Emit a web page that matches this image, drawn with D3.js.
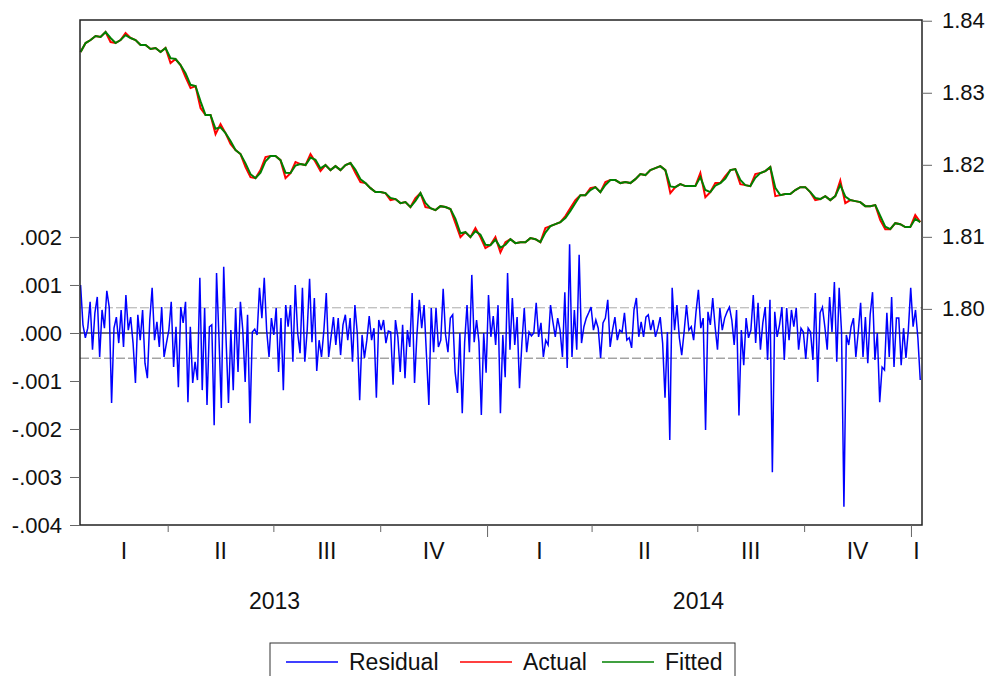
<!DOCTYPE html>
<html>
<head>
<meta charset="utf-8">
<script src="https://cdn.jsdelivr.net/npm/d3@7"></script>
<style>
  body { margin: 0; background: #fff; }
  svg { display: block; font-family: "Liberation Sans", Arial, sans-serif; }
</style>
</head>
<body>
<div id="chart"></div>
<script>
var residual = [
  0.00100, 0.00017, -0.00010, 0.00010, 0.00065, -0.00035, 0.00042, 0.00075, -0.00050, 0.00048,
  0.00010, 0.00088, 0.00054, -0.00146, 0.00010, 0.00033, -0.00021, 0.00048, -0.00029, 0.00079,
  0.00006, 0.00033, -0.00021, -0.00104, 0.00038, -0.00015, 0.00048, -0.00063, -0.00094, 0.00027,
  0.00094, -0.00015, 0.00023, -0.00029, 0.00054, -0.00050, -0.00021, 0.00006, 0.00065, -0.00071,
  0.00013, -0.00113, 0.00054, 0.00021, 0.00065, -0.00144, 0.00013, -0.00104, -0.00060, -0.00098,
  0.00115, -0.00119, 0.00052, -0.00150, 0.00013, 0.00017, -0.00192, 0.00125, -0.00008, -0.00156,
  0.00138, -0.00015, -0.00146, 0.00006, -0.00119, 0.00052, -0.00081, 0.00065, 0.00006, -0.00102,
  0.00038, -0.00188, 0.00002, 0.00008, -0.00004, 0.00094, 0.00031, 0.00115, 0.00006, -0.00050,
  0.00031, -0.00004, 0.00052, -0.00081,
  0.00031, -0.00119, 0.00058, 0.00013, 0.00058, -0.00060, 0.00100, 0.00000, -0.00042, 0.00094,
  -0.00060, 0.00006, 0.00113, -0.00019, 0.00073, -0.00079, -0.00015, -0.00050, 0.00006, 0.00083,
  -0.00050, -0.00008, 0.00033, -0.00025, 0.00031, -0.00046, 0.00017, 0.00038, -0.00015, 0.00031,
  -0.00060, 0.00058, 0.00000, -0.00140, -0.00004, -0.00052, -0.00015, 0.00035, -0.00015, 0.00010,
  -0.00135, 0.00027, 0.00006, 0.00027, -0.00021, 0.00004, 0.00002, -0.00108, 0.00027, -0.00008,
  -0.00081, 0.00017, -0.00094, 0.00006, -0.00029, 0.00083, -0.00104, -0.00004, 0.00069, 0.00010,
  0.00058, -0.00046, -0.00150, 0.00052, -0.00040, 0.00052, -0.00029, -0.00015, 0.00092, -0.00004,
  -0.00040, 0.00031, 0.00038, -0.00081, -0.00125, 0.00000, -0.00167, -0.00019, 0.00058, -0.00040,
  0.00121, -0.00019, 0.00027, -0.00019, -0.00171,
  0.00000, -0.00083, 0.00079, -0.00008, 0.00035, -0.00025, 0.00058, -0.00167, -0.00004, -0.00092,
  0.00125, -0.00035, 0.00073, -0.00025, 0.00033, -0.00115, -0.00021, 0.00052, -0.00040, 0.00002,
  -0.00006, 0.00000, 0.00063, -0.00008, 0.00021, -0.00050, -0.00015, -0.00025, 0.00058, 0.00023,
  -0.00008, 0.00031, 0.00006, -0.00050, 0.00085, -0.00073, 0.00185, -0.00050, 0.00048, -0.00035,
  0.00163, -0.00021, 0.00013, 0.00031, 0.00042, 0.00054, 0.00006, 0.00027, 0.00010, -0.00052,
  0.00021, 0.00031, 0.00069, -0.00029, 0.00006, 0.00033, -0.00015, 0.00006, 0.00002, 0.00042,
  -0.00015, -0.00010, -0.00031, 0.00048, 0.00073, -0.00008, 0.00023, -0.00008, 0.00033, 0.00038,
  0.00006, 0.00027, -0.00008, 0.00010, 0.00033, -0.00021, -0.00135, 0.00002, -0.00223, 0.00094,
  0.00006, 0.00058, -0.00010, -0.00046, 0.00002, 0.00058, 0.00006,
  0.00013, -0.00015, 0.00044, 0.00090, 0.00010, 0.00031, -0.00202, 0.00044, 0.00017, 0.00073,
  0.00013, -0.00035, 0.00052, 0.00006, 0.00031, 0.00044, 0.00054, 0.00027, -0.00025, 0.00048,
  -0.00172, 0.00006, -0.00067, 0.00031, -0.00010, 0.00006, 0.00079, -0.00021, 0.00063, -0.00035,
  0.00021, 0.00054, -0.00056, 0.00069, -0.00290, 0.00044, -0.00008, 0.00017, 0.00054, -0.00056,
  0.00052, -0.00015, 0.00048, 0.00013, 0.00052, -0.00035, 0.00010, 0.00002, -0.00054, 0.00010,
  0.00002, -0.00056, 0.00083, -0.00102, 0.00042, 0.00054, 0.00013, -0.00035, 0.00075, 0.00002,
  0.00106, -0.00060, 0.00094, 0.00002, -0.00362, -0.00004, -0.00025, 0.00013, 0.00031, -0.00050,
  0.00002, 0.00063, -0.00050, 0.00033, -0.00063, 0.00038, 0.00085, -0.00056, 0.00000, -0.00144,
  -0.00071, -0.00077, 0.00042, -0.00050, 0.00075, -0.00071, 0.00031, 0.00031, -0.00067, 0.00010,
  -0.00052, 0.00006, 0.00094, 0.00013, 0.00048, -0.00010, -0.00098
];

// Actual series (right axis)
var actual = [
  1.83565, 1.83690, 1.83732, 1.83788, 1.83774, 1.83843, 1.83704, 1.83690, 1.83732, 1.83829,
  1.83760, 1.83732, 1.83663, 1.83663, 1.83607, 1.83621, 1.83565, 1.83621, 1.83413, 1.83468,
  1.83385, 1.83218, 1.83065, 1.83093, 1.82788, 1.82690, 1.82690, 1.82426, 1.82565, 1.82440,
  1.82288, 1.82204, 1.82149, 1.81968, 1.81829, 1.81815, 1.81926, 1.82107, 1.82121, 1.82121,
  1.82065, 1.81815, 1.81885, 1.82038, 1.82010, 1.81996, 1.82149, 1.82038, 1.81913, 1.81996,
  1.81926, 1.81982, 1.81926, 1.81996, 1.82024, 1.81885, 1.81760, 1.81746, 1.81676, 1.81621,
  1.81621, 1.81607, 1.81510, 1.81524, 1.81468, 1.81482, 1.81413, 1.81538, 1.81607, 1.81413,
  1.81399, 1.81371, 1.81426, 1.81413, 1.81385, 1.81190, 1.80996, 1.81065, 1.80996, 1.81121,
  1.80996, 1.80843, 1.80885, 1.80996, 1.80785, 1.80926, 1.80968, 1.80913, 1.80926, 1.80926,
  1.80982, 1.80968, 1.80926, 1.81121, 1.81149, 1.81176, 1.81204, 1.81288, 1.81399, 1.81510,
  1.81579, 1.81579, 1.81676, 1.81690, 1.81621, 1.81760, 1.81788, 1.81788, 1.81746, 1.81760,
  1.81746, 1.81801, 1.81871, 1.81857, 1.81926, 1.81954, 1.81982, 1.81926, 1.81607, 1.81690,
  1.81732, 1.81704, 1.81704, 1.81704, 1.81885, 1.81551, 1.81621, 1.81746, 1.81746, 1.81843,
  1.81926, 1.81940, 1.81732, 1.81718, 1.81704, 1.81871, 1.81885, 1.81913, 1.81968, 1.81565,
  1.81579, 1.81593, 1.81593, 1.81649, 1.81690, 1.81690, 1.81621, 1.81510, 1.81524, 1.81565,
  1.81510, 1.81565, 1.81780, 1.81468, 1.81510, 1.81496, 1.81482, 1.81426, 1.81426, 1.81440,
  1.81232, 1.81107, 1.81107, 1.81190, 1.81176, 1.81135, 1.81135, 1.81301, 1.81204
];

// Fitted series (right axis)
var fitted = [
  1.83565, 1.83690, 1.83732, 1.83788, 1.83774, 1.83843, 1.83760, 1.83690, 1.83732, 1.83800,
  1.83760, 1.83732, 1.83663, 1.83663, 1.83607, 1.83621, 1.83565, 1.83621, 1.83480, 1.83468,
  1.83385, 1.83270, 1.83110, 1.83093, 1.82880, 1.82690, 1.82690, 1.82500, 1.82520, 1.82440,
  1.82330, 1.82204, 1.82149, 1.82020, 1.81870, 1.81815, 1.81890, 1.82050, 1.82121, 1.82121,
  1.82065, 1.81890, 1.81885, 1.81990, 1.82010, 1.81996, 1.82100, 1.82070, 1.81950, 1.81996,
  1.81926, 1.81982, 1.81926, 1.81996, 1.82024, 1.81930, 1.81800, 1.81746, 1.81676, 1.81621,
  1.81621, 1.81607, 1.81540, 1.81524, 1.81468, 1.81482, 1.81413, 1.81500, 1.81607, 1.81470,
  1.81399, 1.81371, 1.81426, 1.81413, 1.81385, 1.81250, 1.81050, 1.81065, 1.80996, 1.81080,
  1.81030, 1.80890, 1.80885, 1.80960, 1.80850, 1.80890, 1.80968, 1.80913, 1.80926, 1.80926,
  1.80982, 1.80968, 1.80926, 1.81060, 1.81149, 1.81176, 1.81204, 1.81260, 1.81360, 1.81470,
  1.81579, 1.81579, 1.81650, 1.81690, 1.81621, 1.81720, 1.81788, 1.81788, 1.81746, 1.81760,
  1.81746, 1.81801, 1.81871, 1.81857, 1.81926, 1.81954, 1.81982, 1.81926, 1.81700, 1.81690,
  1.81732, 1.81704, 1.81704, 1.81704, 1.81830, 1.81650, 1.81621, 1.81710, 1.81746, 1.81810,
  1.81926, 1.81940, 1.81790, 1.81718, 1.81704, 1.81820, 1.81885, 1.81913, 1.81968, 1.81680,
  1.81579, 1.81593, 1.81593, 1.81649, 1.81690, 1.81690, 1.81621, 1.81540, 1.81524, 1.81565,
  1.81510, 1.81565, 1.81720, 1.81560, 1.81510, 1.81496, 1.81482, 1.81426, 1.81426, 1.81440,
  1.81290, 1.81140, 1.81107, 1.81190, 1.81176, 1.81135, 1.81135, 1.81250, 1.81204
];

// Axis ticks and labels
var residTicks = [-0.004, -0.003, -0.002, -0.001, 0, 0.001, 0.002];
var residTickLabels = ["-.004", "-.003", "-.002", "-.001", ".000", ".001", ".002"];
var levelTicks = [1.80, 1.81, 1.82, 1.83, 1.84];
var levelTickLabels = ["1.80", "1.81", "1.82", "1.83", "1.84"];
var quarterLabels = ["I", "II", "III", "IV"];
var yearLabels = ["2013", "2014"];
var seriesNames = ["Residual", "Actual", "Fitted"];
var seriesColors = ["#0000ff", "#ff0000", "#008000"];
var residStdErr = 0.000525;

// Define SVG area dimensions and plot box
var svgWidth = 986;
var svgHeight = 676;
var plot = { left: 80, right: 922, top: 20, bottom: 525 };

var axisStart = new Date(2013, 0, 15, 12);
var axisEnd = new Date(2015, 0, 10, 12);
var dataStart = new Date(2013, 0, 16);
var dataEnd = new Date(2015, 0, 9);

// evenly spread observation dates across the sample
function obsDates(n) {
  var t0 = dataStart.getTime(), t1 = dataEnd.getTime();
  return d3.range(n).map(function(i) { return new Date(t0 + i * (t1 - t0) / (n - 1)); });
}
var residDates = obsDates(residual.length);
var levelDates = obsDates(actual.length);

var svg = d3.select("#chart")
  .append("svg")
  .attr("width", svgWidth)
  .attr("height", svgHeight);

// scales
var x = d3.scaleTime().domain([axisStart, axisEnd]).range([plot.left, plot.right]);
var yResid = d3.scaleLinear().domain([-0.004, 0.00652]).range([plot.bottom, plot.top]);
var yLevel = d3.scaleLinear().domain([1.77, 1.8401]).range([plot.bottom, plot.top]);

// zero line and +/- one standard error band
svg.append("line")
  .attr("x1", plot.left).attr("x2", plot.right)
  .attr("y1", yResid(0)).attr("y2", yResid(0))
  .attr("stroke", "#444").attr("stroke-width", 1.5);

svg.selectAll(".band")
  .data([residStdErr, -residStdErr])
  .enter()
  .append("line")
  .attr("x1", plot.left).attr("x2", plot.right)
  .attr("y1", d => yResid(d)).attr("y2", d => yResid(d))
  .attr("stroke", (d, i) => i === 0 ? "#aaa" : "#777")
  .attr("stroke-width", 1)
  .attr("stroke-dasharray", "9,3");

// series lines
var residLine = d3.line()
  .x((d, i) => x(residDates[i]))
  .y(d => yResid(d));

var levelLine = d3.line()
  .x((d, i) => x(levelDates[i]))
  .y(d => yLevel(d));

svg.append("path")
  .datum(residual)
  .attr("fill", "none")
  .attr("stroke", seriesColors[0])
  .attr("stroke-width", 1.5)
  .attr("d", residLine);

svg.append("path")
  .datum(actual)
  .attr("fill", "none")
  .attr("stroke", seriesColors[1])
  .attr("stroke-width", 2)
  .attr("d", levelLine);

svg.append("path")
  .datum(fitted)
  .attr("fill", "none")
  .attr("stroke", seriesColors[2])
  .attr("stroke-width", 2)
  .attr("d", levelLine);

// frame
svg.append("rect")
  .attr("x", plot.left).attr("y", plot.top)
  .attr("width", plot.right - plot.left)
  .attr("height", plot.bottom - plot.top)
  .attr("fill", "none")
  .attr("stroke", "#222")
  .attr("stroke-width", 1.5);

// left axis
var leftAxis = svg.append("g")
  .attr("transform", `translate(${plot.left},0)`)
  .call(d3.axisLeft(yResid)
    .tickValues(residTicks)
    .tickFormat((d, i) => residTickLabels[i])
    .tickSize(10)
    .tickPadding(8));

// right axis
var rightAxis = svg.append("g")
  .attr("transform", `translate(${plot.right},0)`)
  .call(d3.axisRight(yLevel)
    .tickValues(levelTicks)
    .tickFormat((d, i) => levelTickLabels[i])
    .tickSize(10)
    .tickPadding(10));

[leftAxis, rightAxis].forEach(function(g) {
  g.select(".domain").remove();
  g.selectAll(".tick line").attr("stroke", "#666");
  g.selectAll(".tick text")
    .attr("fill", "#111")
    .style("font-family", '"Liberation Sans", Arial, sans-serif')
    .style("font-size", "22px");
});

// bottom axis: quarter ticks, longer at year boundaries
var quarterStarts = d3.timeMonth.every(3).range(d3.timeMonth.offset(axisStart, 1), axisEnd);
var bottomAxis = svg.append("g")
  .attr("transform", `translate(0,${plot.bottom})`)
  .call(d3.axisBottom(x)
    .tickValues(quarterStarts)
    .tickFormat("")
    .tickSizeOuter(0));
bottomAxis.select(".domain").remove();
bottomAxis.selectAll(".tick line")
  .attr("stroke", "#666")
  .attr("y2", d => d.getMonth() === 0 ? 12 : 7);

// quarter labels centred in the visible part of each quarter
var allQuarters = d3.timeMonth.every(3).range(d3.timeYear.floor(axisStart), axisEnd);
svg.selectAll(".qlabel")
  .data(allQuarters)
  .enter()
  .append("text")
  .attr("class", "qlabel")
  .attr("x", function(d) {
    var s = d < axisStart ? axisStart : d;
    var e = d3.timeMonth.offset(d, 3);
    e = e > axisEnd ? axisEnd : e;
    return (x(s) + x(e)) / 2;
  })
  .attr("y", 559)
  .attr("text-anchor", "middle")
  .style("font-size", "23px")
  .attr("fill", "#111")
  .text(d => quarterLabels[d.getMonth() / 3]);

// year labels
svg.selectAll(".ylabel")
  .data(yearLabels)
  .enter()
  .append("text")
  .attr("class", "ylabel")
  .attr("x", d => x(new Date(+d, 6, 2)))
  .attr("y", 609)
  .attr("text-anchor", "middle")
  .style("font-size", "23px")
  .attr("fill", "#111")
  .text(d => d);

// legend
var legend = svg.append("g");
legend.append("rect")
  .attr("x", 270).attr("y", 643)
  .attr("width", 465).attr("height", 50)
  .attr("fill", "#fff")
  .attr("stroke", "#333")
  .attr("stroke-width", 1);

var legendX = [286, 460, 602];
var legendItem = legend.selectAll(".item")
  .data(seriesNames)
  .enter()
  .append("g")
  .attr("transform", (d, i) => `translate(${legendX[i]},662)`);

legendItem.append("line")
  .attr("x1", 0).attr("x2", 52)
  .attr("stroke", (d, i) => seriesColors[i])
  .attr("stroke-width", 1.5);

legendItem.append("text")
  .attr("x", 63)
  .attr("y", 8)
  .style("font-size", "23px")
  .attr("fill", "#111")
  .text(d => d);
</script>
</body>
</html>
